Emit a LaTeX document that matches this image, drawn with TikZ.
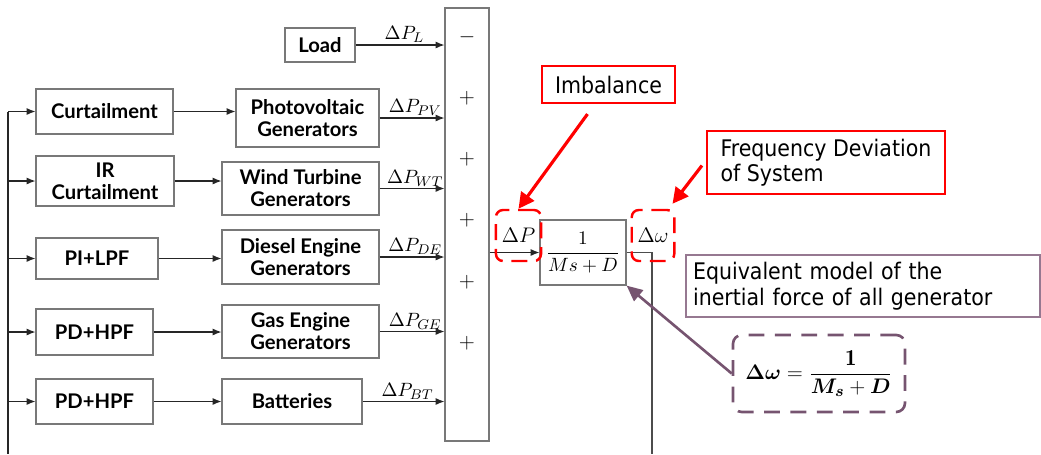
\documentclass[tikz,border=0pt]{standalone}
\usepackage{amsmath}
\usepackage{fontspec}
\setsansfont{Lato}
\newfontfamily\notefont{DejaVu Sans Condensed}
\definecolor{boxline}{RGB}{120, 120, 120}
\definecolor{alertline}{RGB}{255, 0, 0}
\definecolor{plumline}{RGB}{118, 84, 112}
\definecolor{plumlight}{RGB}{150, 120, 145}
\usetikzlibrary{shapes, arrows.meta, positioning, calc}
\newcommand{\inertiaeq}{$\boldsymbol{\Delta\omega}=\dfrac{\mathbf{1}}{\boldsymbol{M_s}+\boldsymbol{D}}$}

\begin{document}
\begin{tikzpicture}[x=0.02cm, y=-0.02cm,
        blk/.style={draw=boxline, line width=0.7pt, align=center, inner sep=2pt,
            font=\sffamily\bfseries\fontsize{11.5}{12.5}\selectfont},
        sig/.style={draw=black!85, line width=0.6pt, -{Latex[length=5pt, width=4pt]}},
        lbl/.style={above, pos=.55, inner sep=1pt, font=\fontsize{11}{12}\selectfont},
        note/.style={draw=alertline, line width=1.2pt, align=left, inner sep=4pt,
            font=\notefont\fontsize{13}{14.5}\selectfont},
        ringbox/.style={draw=alertline, line width=1.4pt, dash pattern=on 9pt off 5pt,
            rounded corners=4pt, font=\fontsize{12}{13}\selectfont},
        pointer/.style={alertline, line width=1.8pt, -{Triangle[length=9pt, width=9pt]}}]
    \useasboundingbox (0,0) rectangle (1041,454);

    % controllers
    \node[blk, minimum width=2.74cm, minimum height=0.9cm] (curt) at (104.5,111.5) {Curtailment};
    \node[blk, minimum width=2.76cm, minimum height=1.0cm] (ircurt) at (105,181) {IR\\Curtailment};
    \node[blk, minimum width=2.44cm, minimum height=0.82cm] (pilpf) at (97,258.5) {PI+LPF};
    \node[blk, minimum width=2.34cm, minimum height=0.92cm] (pdhpfa) at (94.5,332) {PD+HPF};
    \node[blk, minimum width=2.34cm, minimum height=0.9cm] (pdhpfb) at (94.5,401.5) {PD+HPF};

    % sources
    \node[blk, minimum width=1.4cm, minimum height=0.68cm] (load) at (320,45) {Load};
    \node[blk, minimum width=2.86cm, minimum height=1.16cm] (pv) at (307.5,118) {Photovoltaic\\Generators};
    \node[blk, minimum width=3.14cm, minimum height=1.06cm] (wt) at (300.5,188.5) {Wind Turbine\\Generators};
    \node[blk, minimum width=3.14cm, minimum height=1.08cm] (de) at (300.5,257) {Diesel Engine\\Generators};
    \node[blk, minimum width=3.14cm, minimum height=1.06cm] (ge) at (300.5,331.5) {Gas Engine\\Generators};
    \node[blk, minimum width=2.8cm, minimum height=0.9cm] (bt) at (292,401.5) {Batteries};

    % summing bar
    \node[blk, minimum width=0.88cm, minimum height=8.66cm] (sum) at (467,224.5) {};
    \foreach \s/\y [count=\i] in {-/37, +/98, +/159, +/220, +/282, +/343}
        \node[font=\fontsize{13}{13}\selectfont] (sgn\i) at (467,\y) {$\s$};

    % inertia block
    \node[blk, minimum width=1.72cm, minimum height=1.3cm, font=\fontsize{10.5}{11.5}\selectfont] (plant) at (583,252.5) {$\dfrac{1}{Ms+D}$};

    % feedback bus
    \coordinate (busend) at (8,454);
    \coordinate (outend) at (652,454);
    \draw[draw=black!85, line width=0.6pt] (curt.west -| busend) -- (busend);
    \foreach \n in {curt, ircurt, pilpf, pdhpfa, pdhpfb}
        \draw[sig] (\n.west -| busend) -- (\n.west);

    \draw[sig] (curt.east) -- (curt.east -| pv.west);
    \draw[sig] (ircurt.east) -- (ircurt.east -| wt.west);
    \draw[sig] (pilpf.east) -- (pilpf.east -| de.west);
    \draw[sig] (pdhpfa.east) -- (pdhpfa.east -| ge.west);
    \draw[sig] (pdhpfb.east) -- (pdhpfb.east -| bt.west);

    \foreach \n/\t in {load/L, pv/PV, wt/WT, de/DE, ge/GE, bt/BT}
        \draw[sig] (\n.east) -- (\n.east -| sum.west) node[lbl] {$\Delta P_{\t}$};

    \draw[sig] (sum.east |- plant.west) -- (plant.west);
    \draw[draw=black!70, line width=0.6pt] (plant.east) -| (outend);

    % annotations
    \node[ringbox, minimum width=0.86cm, minimum height=1.02cm] (dPbox) at (518.5,235.5) {$\Delta P$};
    \node[ringbox, minimum width=0.8cm, minimum height=1.02cm] (dwbox) at (653,235.5) {$\Delta\omega$};

    \node[note, minimum width=2.66cm, minimum height=0.74cm, align=center] (imb) at (608.5,84.5) {Imbalance};
    \node[note, minimum width=4.76cm, minimum height=1.26cm] (freq) at (826,162.5) {Frequency Deviation\\of System};
    \node[draw=plumlight, line width=0.8pt, minimum width=7.08cm, minimum height=1.24cm, align=left,
        font=\notefont\fontsize{13}{14.5}\selectfont, text width=6.8cm] (equiv) at (863,286)
        {Equivalent model of the\\inertial force of all generator};
    \node[draw=plumline, line width=1.5pt, dash pattern=on 9pt off 6pt, rounded corners=5pt,
        minimum width=3.44cm, minimum height=1.54cm, font=\fontsize{13}{15}\selectfont] (formula) at (819,373.5)
        {\inertiaeq};

    \draw[pointer] ($(imb.south)+(-21,10)$) -- (dPbox.north);
    \draw[pointer] ($(freq.west)+(-4,3)$) -- ($(dwbox.north east)+(-3,-5)$);
    \draw[plumline, line width=1.5pt, -{Triangle[length=9pt, width=8pt]}] (formula.west) -- (plant.south east);
\end{tikzpicture}
\end{document}
